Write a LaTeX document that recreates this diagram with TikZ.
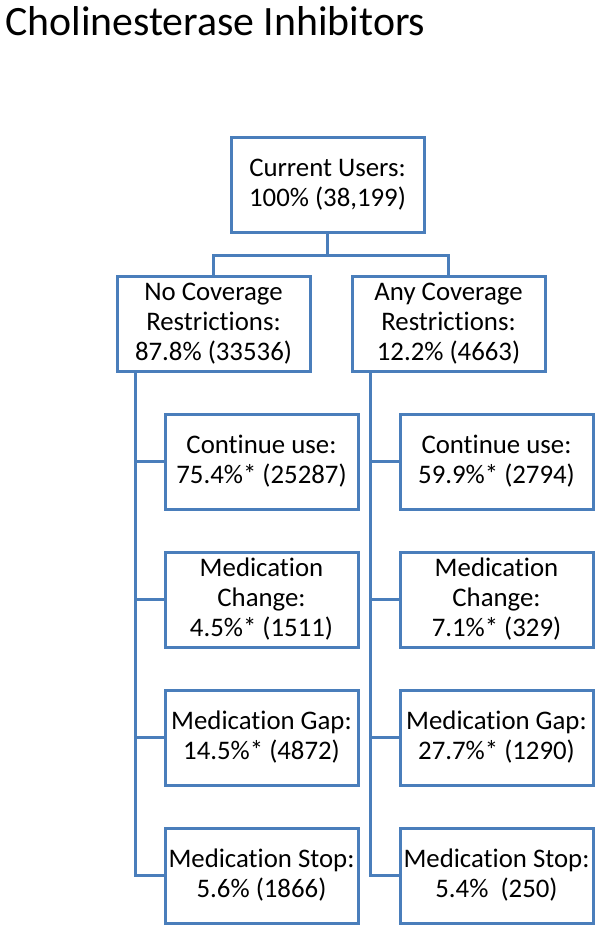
\documentclass[tikz,border=0pt]{standalone}
\usepackage{fontspec}
\setmainfont[Ligatures=CommonOff]{Carlito}
\usepackage{tikz}
\usetikzlibrary{
  calc,%
  positioning
}
\definecolor{boxblue}{HTML}{4A7EBB}
\tikzset{font=\fontsize{26.8}{30}\selectfont}
\tikzset{statbox/.style={draw=boxblue, line width=3pt, align=center,
  minimum width=193pt, minimum height=95pt, inner sep=0pt}}
\tikzset{link/.style={draw=boxblue, line width=3pt}}

\begin{document}
\begin{tikzpicture}[x=1pt,y=1pt]
          \useasboundingbox (0,0) rectangle (602,-932);
          \node[anchor=base west, inner sep=0pt, font=\fontsize{41.8}{50}\selectfont] (title) at (5,-35) {Cholinesterase Inhibitors};
          % top of the tree
          \node[statbox] (users) at (327.5,-184.5) {Current Users:\\100\% (38,199)};
          \node[statbox] (nocov) at (213.5,-324) {No Coverage\\Restrictions:\\87.8\% (33536)};
          \node[statbox] (anycov) at (448.5,-324) {Any Coverage\\Restrictions:\\12.2\% (4663)};
          \coordinate (split) at ($(users.south)+(0,-22)$);
          \draw[link] (users.south) -- (split);
          \draw[link] (split) -| (nocov.north);
          \draw[link] (split) -| (anycov.north);
          % outcomes, no coverage restrictions
          \node[statbox] (nocont) at (261.5,-461.5) {Continue use:\\75.4\%* (25287)};
          \node[statbox] (nochange) at (261.5,-599.5) {Medication\\Change:\\4.5\%* (1511)};
          \node[statbox] (nogap) at (261.5,-737.5) {Medication Gap:\\14.5\%* (4872)};
          \node[statbox] (nostop) at (261.5,-875.5) {Medication Stop:\\5.6\% (1866)};
          % outcomes, any coverage restrictions
          \node[statbox] (anycont) at (496.5,-461.5) {Continue use:\\59.9\%* (2794)};
          \node[statbox] (anychange) at (496.5,-599.5) {Medication\\Change:\\7.1\%* (329)};
          \node[statbox] (anygap) at (496.5,-737.5) {Medication Gap:\\27.7\%* (1290)};
          \node[statbox] (anystop) at (496.5,-875.5) {Medication Stop:\\5.4\%~ (250)};
          \coordinate (notrunk) at ($(nocov.south west)+(20,0)$);
          \coordinate (anytrunk) at ($(anycov.south west)+(20,0)$);
          \draw[link] (notrunk) |- (nostop.west);
          \draw[link] (anytrunk) |- (anystop.west);
          \foreach \b in {cont, change, gap} {
            \draw[link] (notrunk |- no\b.west) -- (no\b.west);
            \draw[link] (anytrunk |- any\b.west) -- (any\b.west);
          }
        \end{tikzpicture}
\end{document}
